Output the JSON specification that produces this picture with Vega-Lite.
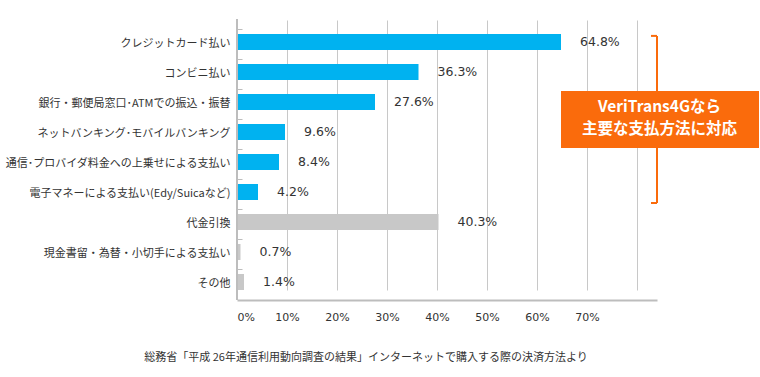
{
  "$schema": "https://vega.github.io/schema/vega-lite/v6.json",
  "width": 420,
  "height": 281,
  "autosize": {"type": "none"},
  "padding": {"left": 237, "top": 19, "right": 103, "bottom": 77},
  "background": "white",
  "config": {"view": {"stroke": null}, "font": "DejaVu Sans"},
  "title": {
    "text": "総務省「平成 26年通信利用動向調査の結果」インターネットで購入する際の決済方法より",
    "orient": "bottom",
    "anchor": "middle",
    "frame": "group",
    "dx": -81,
    "offset": 30,
    "fontSize": 11,
    "fontWeight": "normal",
    "color": "#333333",
    "font": "Noto Sans CJK JP"
  },
  "layer": [
    {
      "data": {
        "values": [
          {"cat": "クレジットカード払い", "v": 64.8, "label": "64.8%", "group": "main"},
          {"cat": "コンビニ払い", "v": 36.3, "label": "36.3%", "group": "main"},
          {"cat": "銀行・郵便局窓口･ATMでの振込・振替", "v": 27.6, "label": "27.6%", "group": "main"},
          {"cat": "ネットバンキング･モバイルバンキング", "v": 9.6, "label": "9.6%", "group": "main"},
          {"cat": "通信･プロバイダ料金への上乗せによる支払い", "v": 8.4, "label": "8.4%", "group": "main"},
          {"cat": "電子マネーによる支払い(Edy/Suicaなど)", "v": 4.2, "label": "4.2%", "group": "main"},
          {"cat": "代金引換", "v": 40.3, "label": "40.3%", "group": "other"},
          {"cat": "現金書留・為替・小切手による支払い", "v": 0.7, "label": "0.7%", "group": "other"},
          {"cat": "その他", "v": 1.4, "label": "1.4%", "group": "other"}
        ]
      },
      "encoding": {
        "y": {
          "field": "cat",
          "type": "nominal",
          "sort": null,
          "scale": {"range": [10, 280], "paddingInner": 0, "paddingOuter": 0},
          "axis": {
            "title": null,
            "domain": false,
            "ticks": true,
            "tickSize": -5,
            "tickColor": "#BDBDBD",
            "bandPosition": 0,
            "labelFont": "Noto Sans CJK JP",
            "labelFontSize": 11,
            "labelColor": "#333333",
            "labelPadding": 12,
            "labelLimit": 300
          }
        }
      },
      "layer": [
        {
          "mark": {"type": "bar", "height": 16, "yOffset": -2},
          "encoding": {
            "x": {
              "field": "v",
              "type": "quantitative",
              "scale": {"domain": [0, 84], "nice": false, "zero": true},
              "axis": {
                "title": null,
                "values": [0, 10, 20, 30, 40, 50, 60, 70, 80],
                "labelExpr": "datum.value >= 80 ? '' : datum.value + '%'",
                "grid": true,
                "gridColor": "#C8C8C8",
                "ticks": false,
                "domainColor": "#BDBDBD",
                "domainWidth": 2,
                "labelFont": "DejaVu Sans",
                "labelFontSize": 11,
                "labelColor": "#333333",
                "labelPadding": 11
              }
            },
            "color": {
              "field": "group",
              "type": "nominal",
              "scale": {"domain": ["main", "other"], "range": ["#00B2F0", "#C8C8C8"]},
              "legend": null
            }
          }
        },
        {
          "mark": {"type": "text", "align": "left", "baseline": "middle", "dx": 19, "yOffset": -2, "font": "DejaVu Sans", "fontSize": 12.5, "color": "#333333"},
          "encoding": {
            "x": {"field": "v", "type": "quantitative", "title": null},
            "text": {"field": "label", "type": "nominal"}
          }
        }
      ]
    },
    {
      "data": {"values": [{"x": 0}]},
      "mark": {"type": "rule", "color": "#BDBDBD", "strokeWidth": 2},
      "encoding": {"x": {"field": "x", "type": "quantitative", "title": null}}
    },
    {
      "data": {
        "values": [
          {"x": 84, "x2": 84, "y": 0.23, "y2": 5.8},
          {"x": 82.8, "x2": 84, "y": 0.23, "y2": 0.23},
          {"x": 82.8, "x2": 84, "y": 5.8, "y2": 5.8}
        ]
      },
      "mark": {"type": "rule", "color": "#FA6B0C", "strokeWidth": 2},
      "encoding": {
        "x": {"field": "x", "type": "quantitative", "title": null},
        "x2": {"field": "x2"},
        "y": {"field": "y", "type": "quantitative", "scale": {"domain": [0, 9], "range": [10, 280], "nice": false, "zero": false}, "axis": null},
        "y2": {"field": "y2"}
      }
    },
    {
      "data": {"values": [{"x": 64.8, "x2": 104.4, "y": 2.07, "y2": 3.97}]},
      "mark": {"type": "rect", "color": "#FA6B0C"},
      "encoding": {
        "x": {"field": "x", "type": "quantitative", "title": null},
        "x2": {"field": "x2"},
        "y": {"field": "y", "type": "quantitative", "scale": {"domain": [0, 9], "range": [10, 280], "nice": false, "zero": false}, "axis": null},
        "y2": {"field": "y2"}
      }
    },
    {
      "data": {
        "values": [
          {"x": 84.5, "y": 2.6, "t": "VeriTrans4Gなら"},
          {"x": 84.5, "y": 3.32, "t": "主要な支払方法に対応"}
        ]
      },
      "mark": {"type": "text", "align": "center", "baseline": "middle", "color": "white", "font": "Noto Sans CJK JP", "fontWeight": "bold", "fontSize": 15.5},
      "encoding": {
        "x": {"field": "x", "type": "quantitative", "title": null},
        "y": {"field": "y", "type": "quantitative", "scale": {"domain": [0, 9], "range": [10, 280], "nice": false, "zero": false}, "axis": null},
        "text": {"field": "t", "type": "nominal"}
      }
    }
  ],
  "resolve": {"scale": {"y": "independent"}}
}
